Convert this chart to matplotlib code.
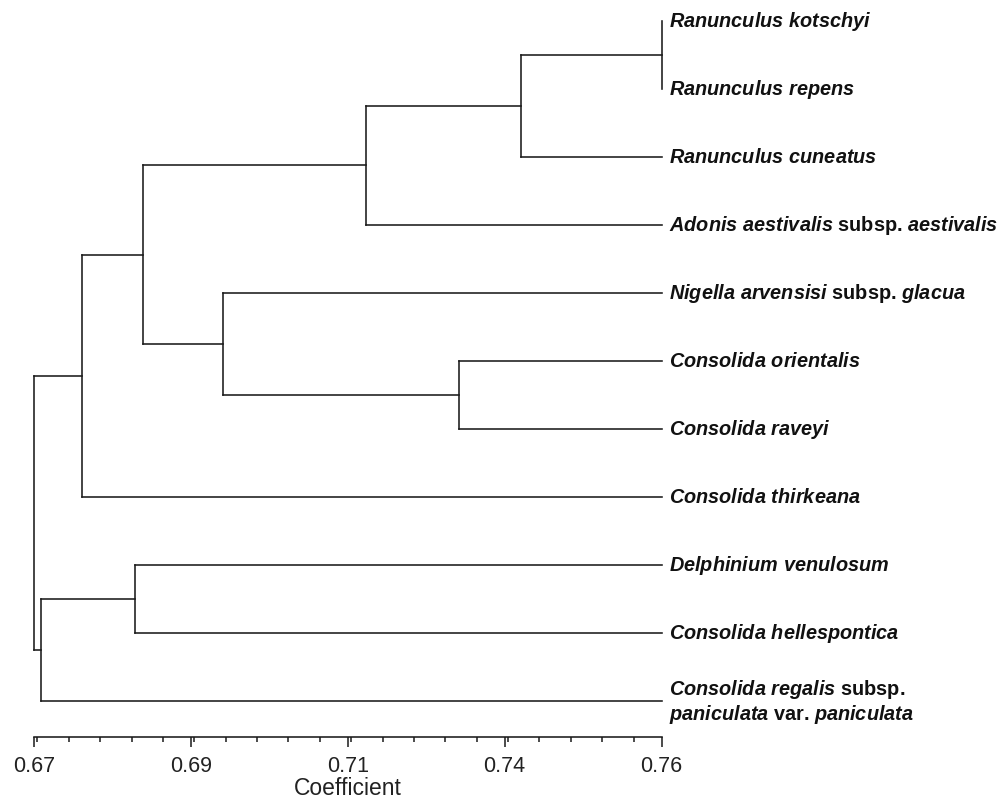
import matplotlib

matplotlib.use("Agg")
import matplotlib.pyplot as plt
from matplotlib.ticker import FixedLocator, MultipleLocator

plt.rcParams["font.family"] = ["Liberation Sans", "DejaVu Sans"]
plt.rcParams["mathtext.fontset"] = "custom"
plt.rcParams["mathtext.it"] = "Liberation Sans:italic:bold"
plt.rcParams["mathtext.rm"] = "Liberation Sans:bold"
plt.rcParams["mathtext.bf"] = "Liberation Sans:bold"

# leaves, top to bottom
leaf_labels = [
    r"$\mathit{Ranunculus\ kotschyi}$",
    r"$\mathit{Ranunculus\ repens}$",
    r"$\mathit{Ranunculus\ cuneatus}$",
    r"$\mathit{Adonis\ aestivalis}$ subsp. $\mathit{aestivalis}$",
    r"$\mathit{Nigella\ arvensisi}$ subsp. $\mathit{glacua}$",
    r"$\mathit{Consolida\ orientalis}$",
    r"$\mathit{Consolida\ raveyi}$",
    r"$\mathit{Consolida\ thirkeana}$",
    r"$\mathit{Delphinium\ venulosum}$",
    r"$\mathit{Consolida\ hellespontica}$",
    "$\\mathit{Consolida\\ regalis}$ subsp.\n$\\mathit{paniculata}$ var. $\\mathit{paniculata}$",
]

# merges: node ids 0..10 are leaves, each merge creates node 11, 12, ...
merge_left = [0, 11, 12, 5, 4, 13, 16, 8, 18, 17]
merge_right = [1, 2, 3, 6, 14, 15, 7, 9, 10, 19]
merge_height = [0.760, 0.7398, 0.7176, 0.7310, 0.6971, 0.6857, 0.6769, 0.6845, 0.6710, 0.6700]

major_ticks = [0.67, 0.6925, 0.715, 0.7375, 0.76]
major_labels = ["0.67", "0.69", "0.71", "0.74", "0.76"]

fig = plt.figure(figsize=(10.02, 8.03), dpi=100)
ax = fig.add_axes([34 / 1002, 1 - 738 / 803, 627.5 / 1002, 736.4 / 803])

n_leaves = len(leaf_labels)
pos_y = {i: float(i) for i in range(n_leaves)}
pos_x = {i: 0.76 for i in range(n_leaves)}
line_kw = dict(color="#1a1a1a", lw=1.15, solid_capstyle="projecting", clip_on=False)

for k, (a, b, h) in enumerate(zip(merge_left, merge_right, merge_height)):
    node = n_leaves + k
    ax.plot([h, h], [pos_y[a], pos_y[b]], **line_kw)
    for child in (a, b):
        if pos_x[child] > h:
            ax.plot([h, pos_x[child]], [pos_y[child], pos_y[child]], **line_kw)
    pos_y[node] = (pos_y[a] + pos_y[b]) / 2
    pos_x[node] = h

for i, label in enumerate(leaf_labels):
    ax.annotate(label, xy=(0.76, i), xytext=(5.5, 0), textcoords="offset points",
                ha="left", va="center", fontsize=14.3, fontweight="bold",
                color="#111111", annotation_clip=False, linespacing=1.1)

ax.set_xlim(0.67, 0.76)
ax.set_ylim(10.53, -0.3)
for side in ("top", "right", "left"):
    ax.spines[side].set_visible(False)
ax.spines["bottom"].set_color("#1a1a1a")
ax.spines["bottom"].set_linewidth(1.15)
ax.set_yticks([])
ax.xaxis.set_major_locator(FixedLocator(major_ticks))
ax.xaxis.set_minor_locator(MultipleLocator(0.0045))
ax.set_xticklabels(major_labels)
ax.tick_params(axis="x", which="major", length=7.5, width=1.1, color="#1a1a1a",
               labelsize=15.5, labelcolor="#222222", pad=5.5)
ax.tick_params(axis="x", which="minor", length=3.8, width=1.1, color="#1a1a1a")
ax.set_xlabel("Coefficient", fontsize=16.5, color="#222222", labelpad=0)

fig.savefig("out.png", dpi=100, facecolor="white")
